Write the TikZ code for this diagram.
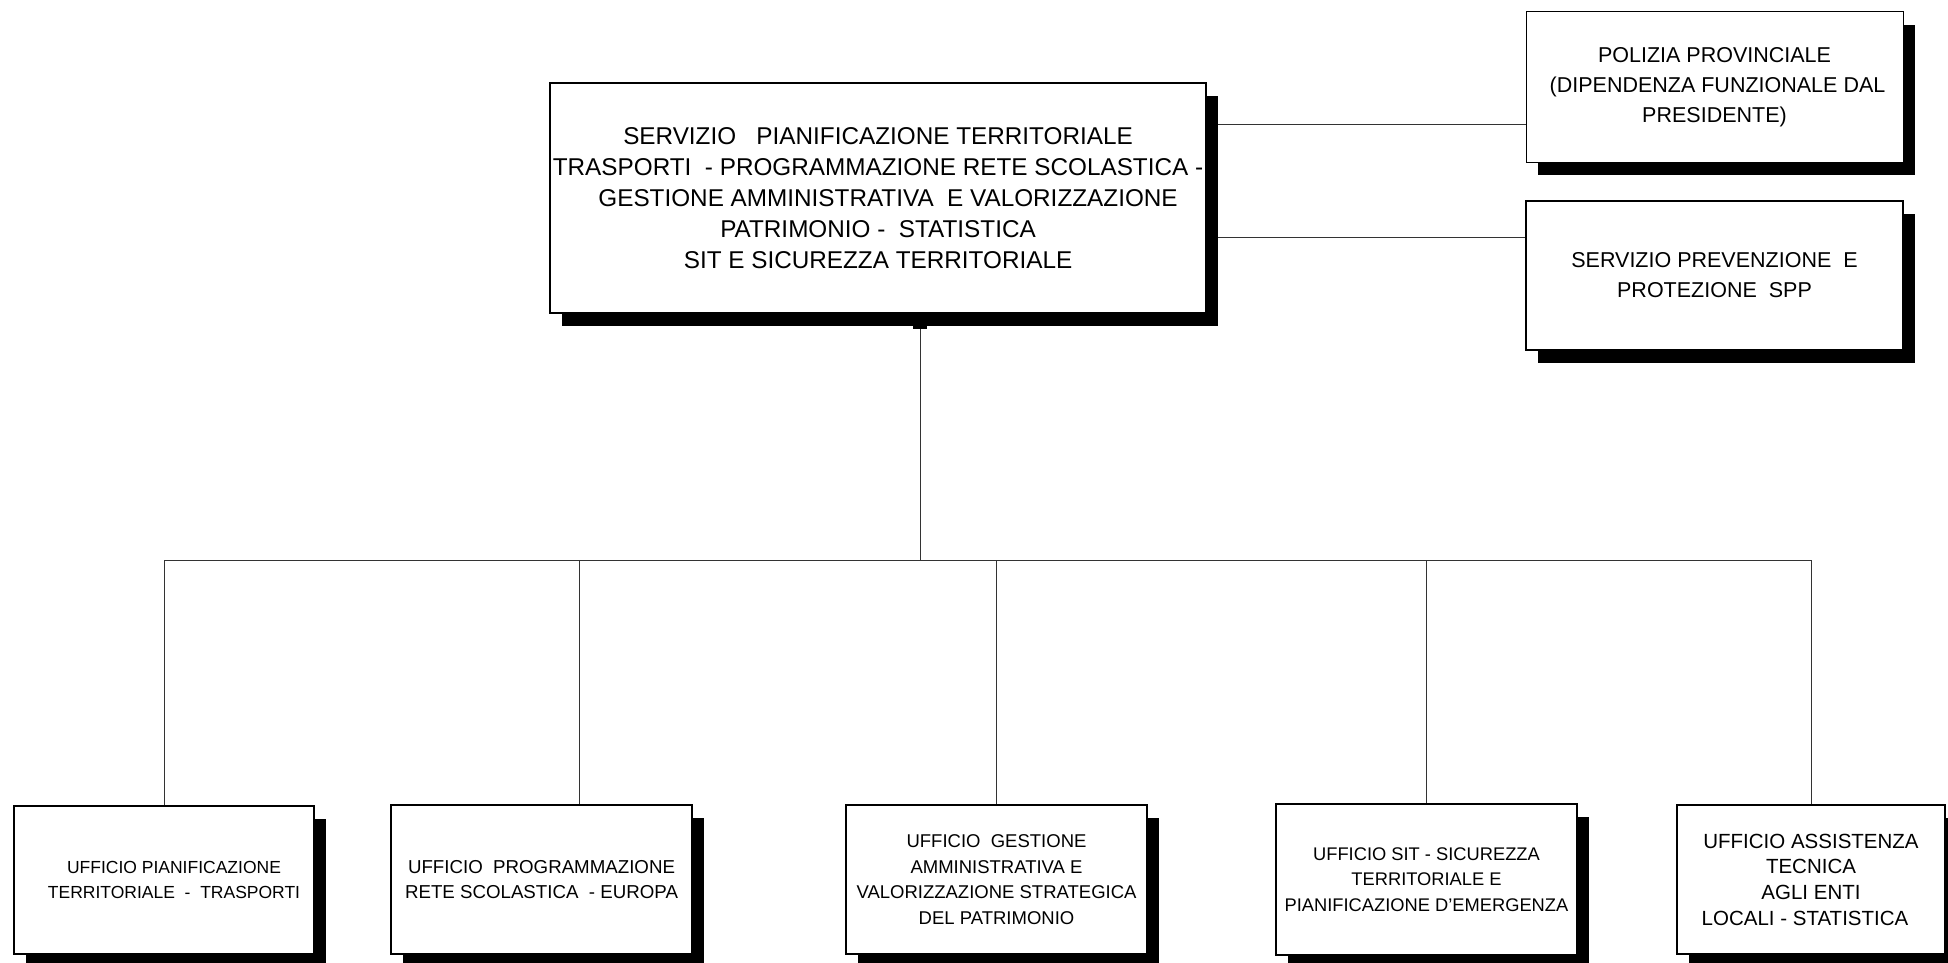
\documentclass[tikz,border=0pt]{standalone}
\usepackage{fontspec}
\setmainfont{Liberation Sans}
\usetikzlibrary{shadows,backgrounds}

\begin{document}
\begin{tikzpicture}[x=1pt,y=-1pt,
  box/.style={draw=black, line width=1.4pt, fill=white, align=center, inner sep=0pt,
    drop shadow={fill=black, opacity=1, shadow xshift=12pt, shadow yshift=-13pt}},
  topfont/.style={font=\fontsize{24.3}{31}\selectfont},
  sidefont/.style={font=\fontsize{21.5}{30}\selectfont},
  link/.style={draw=black!80, line width=1pt}]

\useasboundingbox (0,0) rectangle (1948,963);

% head of the service
\node[box, topfont, minimum width=656pt, minimum height=230pt] (main) at (878,198)
  {SERVIZIO~~~PIANIFICAZIONE TERRITORIALE\\
   TRASPORTI~~- PROGRAMMAZIONE RETE SCOLASTICA -\\
   \hspace*{20pt}GESTIONE AMMINISTRATIVA~~E VALORIZZAZIONE\\
   PATRIMONIO -~~STATISTICA\\
   SIT E SICUREZZA TERRITORIALE};

% staff units on the right
\node[box, sidefont, line width=1pt, minimum width=377pt, minimum height=150pt] (pol) at (1714.5,87)
  {POLIZIA PROVINCIALE\\
   ~(DIPENDENZA FUNZIONALE DAL\\
   PRESIDENTE)};
\node[box, sidefont, minimum width=377pt, minimum height=149pt] (spp) at (1714.5,275.5)
  {SERVIZIO PREVENZIONE~~E\\
   PROTEZIONE~~SPP};

% offices
\node[box, font=\fontsize{17.5}{25.7}\selectfont, minimum width=300pt, minimum height=148pt] (b1) at (164,880)
  {\hspace*{20pt}UFFICIO PIANIFICAZIONE\\\hspace*{20pt}TERRITORIALE~~-~~TRASPORTI};
\node[box, font=\fontsize{18.7}{25.7}\selectfont, minimum width=301pt, minimum height=149pt] (b2) at (541.5,879.5)
  {UFFICIO~~PROGRAMMAZIONE\\RETE SCOLASTICA~~- EUROPA};
\node[box, font=\fontsize{18.5}{25.7}\selectfont, minimum width=301pt, minimum height=149pt] (b3) at (996.5,879.5)
  {UFFICIO~~GESTIONE\\AMMINISTRATIVA E\\VALORIZZAZIONE STRATEGICA\\DEL PATRIMONIO};
\node[box, font=\fontsize{18.3}{25.7}\selectfont, minimum width=301pt, minimum height=151pt] (b4) at (1426.5,879.5)
  {UFFICIO SIT - SICUREZZA\\TERRITORIALE E\\PIANIFICAZIONE D'EMERGENZA};
\node[box, font=\fontsize{20.5}{25.7}\selectfont, minimum width=268pt, minimum height=149pt] (b5) at (1811,879.5)
  {UFFICIO ASSISTENZA\\TECNICA\\AGLI ENTI\\LOCALI - STATISTICA\hspace*{12pt}};

% attachment points of the connectors
\coordinate (polin) at (1526,125);
\coordinate (sppin) at (1526,237);
\coordinate (hub) at (920,560);
\coordinate (d1) at (164,560);
\coordinate (d2) at (579,560);
\coordinate (d3) at (996.5,560);
\coordinate (d4) at (1426.5,560);
\coordinate (d5) at (1811,560);

\begin{scope}[on background layer]
  \fill[white] (0,0) rectangle (1948,963);
  \draw[link] (main.east |- polin) -- (polin);
  \draw[link] (main.east |- sppin) -- (sppin);
  \draw[link] (main.south -| hub) -- (hub);
  \draw[link] (d1) -- (d5);
  \draw[link] (d1) -- (b1.north -| d1);
  \draw[link] (d2) -- (b2.north -| d2);
  \draw[link] (d3) -- (b3.north -| d3);
  \draw[link] (d4) -- (b4.north -| d4);
  \draw[link] (d5) -- (b5.north -| d5);
\end{scope}

% small tab where the trunk leaves the head box
\fill[black] (913,325) rectangle (927,329);

\end{tikzpicture}
\end{document}
